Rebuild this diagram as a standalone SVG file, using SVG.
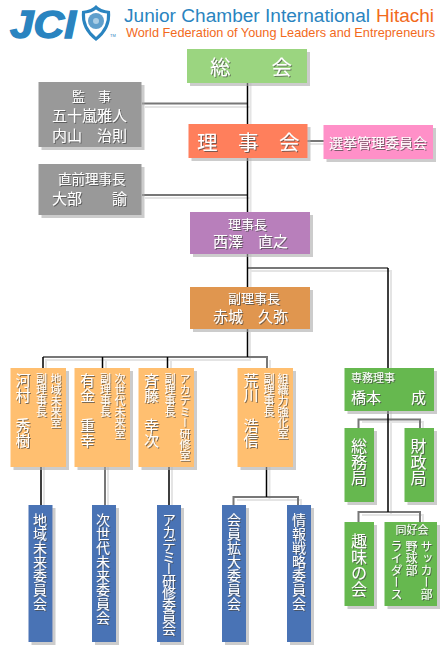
<svg xmlns="http://www.w3.org/2000/svg" width="445" height="658" viewBox="0 0 445 658">
<defs>
<filter id="ts" x="-20%" y="-20%" width="140%" height="140%"><feDropShadow dx="1" dy="1" stdDeviation="0.2" flood-color="#444" flood-opacity="0.7"/></filter>
<filter id="bs" x="-10%" y="-10%" width="125%" height="125%"><feDropShadow dx="3" dy="3" stdDeviation="0.3" flood-color="#aaa" flood-opacity="0.6"/></filter>
</defs>
<style>
text{font-family:"Noto Sans CJK JP","Noto Sans",sans-serif;fill:#fff;filter:url(#ts)}
.v{writing-mode:vertical-rl}
.box{filter:url(#bs)}
.k{fill:none;stroke:#000;stroke-width:1.500}
.g{fill:none;stroke:#777;stroke-width:2}
.s{fill:none;stroke:#e4e4e4;stroke-width:2}
.lat{font-family:"Liberation Sans",Arial,sans-serif;filter:none}
.f11{font-size:11px}.f13{font-size:13px}.f14{font-size:14px}.f15{font-size:15px}.f12{font-size:12px}.f16{font-size:16px}
</style>
<rect width="445" height="658" fill="#fff"/>
<g id="logo">
<text class="lat" x="10" y="38" style="font-size:38px;font-weight:bold;font-style:italic;fill:#2a84c0;stroke:#2a84c0;stroke-width:1.400" textLength="66" lengthAdjust="spacingAndGlyphs">JCI</text>
<path d="M82 11Q92 10 96 5Q100 10 110 11Q112 29 96 41Q80 29 82 11Z" fill="#2a84c0"/>
<path d="M85 13.500Q92 13 96 9.500Q100 13 107 13.500Q108 27 96 37Q84 27 85 13.500Z" fill="#fff"/>
<circle cx="96" cy="21" r="8" fill="#5f9fcc"/>
<circle cx="96" cy="21" r="3" fill="#a9cde5"/>
<text class="lat" x="110" y="37" style="font-size:4px;fill:#2a84c0">TM</text>
<text class="lat" x="124" y="22" style="font-size:18px;fill:#2a84c0" textLength="246" lengthAdjust="spacingAndGlyphs">Junior Chamber International</text>
<text class="lat" x="376" y="22" style="font-size:18px;fill:#f26a1b" textLength="58" lengthAdjust="spacingAndGlyphs">Hitachi</text>
<text class="lat" x="126" y="37" style="font-size:12.800px;fill:#f26a1b" textLength="309" lengthAdjust="spacingAndGlyphs">World Federation of Young Leaders and Entrepreneurs</text>
</g>
<g id="connectors">
<path class="s" d="M250.500 83V290M145 107H250M145 198H250M310 144H326M250 271H391V368M250 332V360H46V368M106 360V368M171 360V368M270 360V368M44 467V505M108 467V505M172 467V505M269.500 467V500M237 500H301V505M391 411V515M362 422H423V428M362 515H423V522"/>
<path class="g" d="M142 103.500H247.500M142 195H247.500M307 141H324M248 268H388M43 357H267V368M105 467V505M233.500 505V497H298V505M358.500 428V419.500H420V428M358.500 522V512H420V522"/>
<path class="k" d="M247.500 83V357M388 268V368M43 357V368M102.500 357V368M167.500 357V368M388 411V512M41 467V505M169 467V505M266.500 467V497"/>
</g>
<g id="soukai"><rect class="box" x="187" y="49" width="120" height="34" fill="#9bd580"/><text x="210" y="75" style="font-size:20.500px">総　　会</text></g>
<g id="kansa"><rect class="box" x="38.500" y="82" width="103" height="65" fill="#999"/><text class="f13" x="72" y="100.500">監　事</text><text class="f15" x="52" y="120.500">五十嵐雅人</text><text class="f15" x="52" y="140.500">内山　治則</text></g>
<g id="rijikai"><rect class="box" x="188.500" y="124" width="119" height="34" fill="#ff7f5c"/><text x="197" y="150" style="font-size:20.500px">理　事　会</text></g>
<g id="senkyo"><rect class="box" x="323.500" y="125" width="109.500" height="34" fill="#ff90c8"/><text class="f14" x="329" y="148">選挙管理委員会</text></g>
<g id="chokuzen"><rect class="box" x="38.500" y="164" width="103" height="51" fill="#999"/><text style="font-size:13.500px" x="58" y="184">直前理事長</text><text class="f15" x="52" y="204">大部　　諭</text></g>
<g id="rijicho"><rect class="box" x="190" y="212" width="120" height="42" fill="#b87fbb"/><text class="f13" x="228" y="229">理事長</text><text class="f15" x="213" y="247">西澤　直之</text></g>
<g id="fuku"><rect class="box" x="190" y="287" width="120" height="42" fill="#e09650"/><text class="f13" x="228" y="303">副理事長</text><text class="f15" x="213" y="322">赤城　久弥</text></g>
<g id="vp1"><rect class="box" x="10.500" y="368" width="55.500" height="99" fill="#ffbf70"/><text class="v f15" x="23" y="373">河村　秀樹</text><text class="v f11" x="41.500" y="373">副理事長</text><text class="v f11" x="56" y="373">地域未来室</text></g>
<g id="vp2"><rect class="box" x="74.500" y="368" width="55.500" height="99" fill="#ffbf70"/><text class="v f15" x="87.500" y="373">有金　重幸</text><text class="v f11" x="105.500" y="373">副理事長</text><text class="v f11" x="120" y="373">次世代未来室</text></g>
<g id="vp3"><rect class="box" x="138.500" y="368" width="55.500" height="99" fill="#ffbf70"/><text class="v f15" x="151.500" y="373">斉藤　幸次</text><text class="v f11" x="170" y="373">副理事長</text><text class="v f11" x="185" y="373">アカデミー研修室</text></g>
<g id="vp4"><rect class="box" x="237.500" y="368" width="55.500" height="99" fill="#ffbf70"/><text class="v f15" x="251" y="373">荒川　浩信</text><text class="v f11" x="269" y="373">副理事長</text><text class="v f11" x="283" y="373">組織力強化室</text></g>
<g id="senmu"><rect class="box" x="344.500" y="368" width="89.500" height="43" fill="#66b84f"/><text class="f11" x="351" y="382">専務理事</text><text class="f15" x="351" y="403">橋本　　成</text></g>
<g id="c1"><rect class="box" x="28.500" y="505" width="24" height="137" fill="#4a73b5"/><text class="v f14" x="40" y="513">地域未来委員会</text></g>
<g id="c2"><rect class="box" x="92" y="505" width="24" height="137" fill="#4a73b5"/><text class="v f14" x="103" y="513">次世代未来委員会</text></g>
<g id="c3"><rect class="box" x="157" y="505" width="24" height="137" fill="#4a73b5"/><text class="v f14" x="169" y="513" style="letter-spacing:-1.900px">アカデミー研修委員会</text></g>
<g id="c4"><rect class="box" x="222" y="505" width="24" height="137" fill="#4a73b5"/><text class="v f14" x="234" y="513">会員拡大委員会</text></g>
<g id="c5"><rect class="box" x="287" y="505" width="24" height="137" fill="#4a73b5"/><text class="v f14" x="299" y="513">情報戦略委員会</text></g>
<g id="somu"><rect class="box" x="344.500" y="428" width="29.500" height="74" fill="#66b84f"/><text class="v f16" x="359" y="438">総務局</text></g>
<g id="zaisei"><rect class="box" x="404.500" y="428" width="29.500" height="74" fill="#66b84f"/><text class="v f16" x="418.500" y="438">財政局</text></g>
<g id="shumi"><rect class="box" x="344.500" y="522" width="29.500" height="84" fill="#66b84f"/><text class="v f16" x="359" y="533">趣味の会</text></g>
<g id="doukou"><rect class="box" x="384.500" y="522" width="52.500" height="84" fill="#66b84f"/><text class="f11" x="395.500" y="534">同好会</text><text class="v f12" x="396.500" y="540">ライダース</text><text class="v f12" x="411.500" y="540">野球部</text><text class="v f12" x="426.500" y="540">サッカー部</text></g>
</svg>
